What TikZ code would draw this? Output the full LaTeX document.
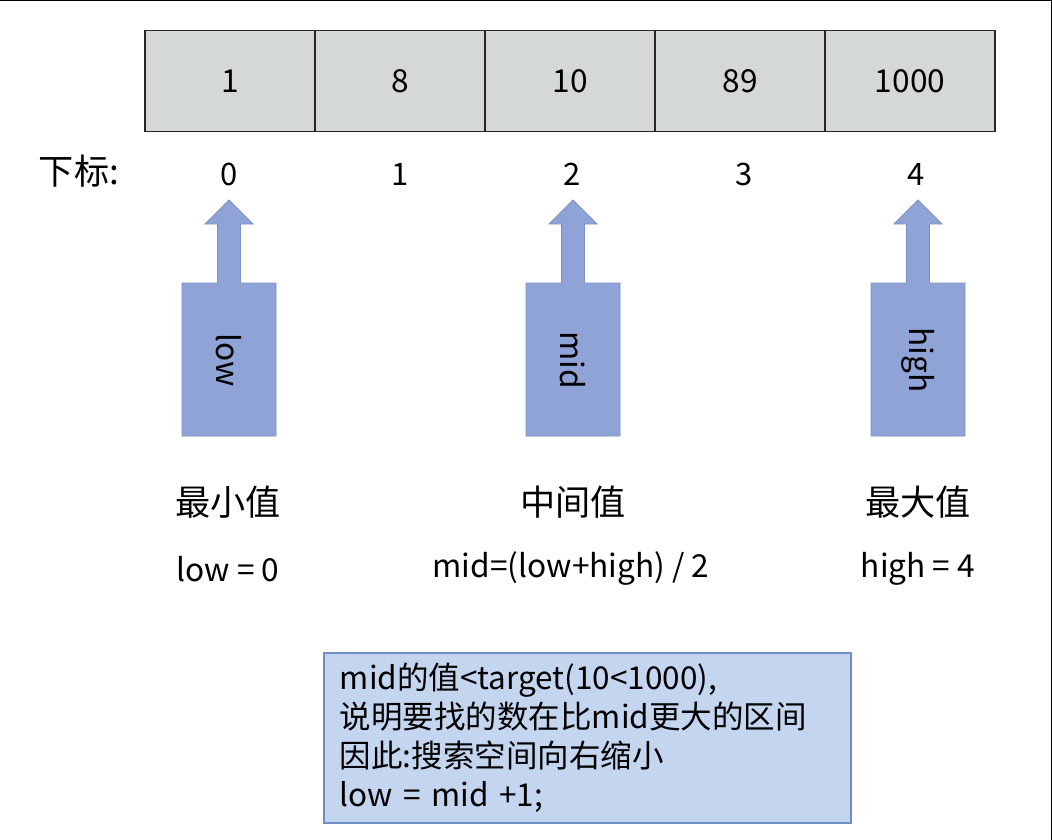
\documentclass[tikz,border=0pt]{standalone}
\usepackage{fontspec}
\setmainfont{Noto Sans CJK SC}
\definecolor{cellgray}{HTML}{D5D8D8}
\definecolor{ptrblue}{HTML}{8FA3D6}
\definecolor{ptrline}{HTML}{7A90C4}
\definecolor{notefill}{HTML}{C4D6EF}
\definecolor{noteline}{HTML}{6F8ECA}
\tikzset{
  cell/.style={draw=black!85,line width=1pt,fill=cellgray,minimum width=4.25cm,minimum height=2.525cm,inner sep=0pt,font=\fontsize{22.5}{26}\selectfont},
  idx/.style={font=\fontsize{22}{25}\selectfont},
  ptr/.style={draw=ptrline,line width=0.6pt,fill=ptrblue},
  role/.style={font=\fontsize{25}{28}\selectfont},
  expr/.style={font=\fontsize{22.5}{26}\selectfont}
}
\begin{document}
\begin{tikzpicture}[x=0.025cm,y=-0.025cm]
    \useasboundingbox (0,0) rectangle (1052,840);
    \draw[line width=1.2pt](0,0.5)--(1051.5,0.5)--(1051.5,840);

    % array and its indices
    \foreach \v [count=\i from 0] in {1,8,10,89,1000}
        \node[cell] (c\i) at ({230+170*\i},81) {\v};
    \node[idx,font=\fontsize{25}{28}\selectfont,anchor=west] (idxlab) at (34,171) {下标:};
    \foreach \x [count=\i from 0] in {229,400,572,744,916}
        \node[idx] (i\i) at (\x,174) {\i};

    % pointers
    \foreach \x/\t/\n in {229/low/lo,573/mid/mi,918/high/hi}{
        \draw[ptr]({\x-47},436)--({\x-47},283)--({\x-11.5},283)--({\x-11.5},224)--({\x-24},224)
            --(\x,200)--({\x+24},224)--({\x+11.5},224)--({\x+11.5},283)--({\x+47},283)--({\x+47},436)--cycle;
        \node[expr,rotate=-90] (p\n) at (\x,360) {\t};
    }

    \node[role] (minlab) at (228,502) {最小值};
    \node[role] (midlab) at (573,502) {中间值};
    \node[role] (maxlab) at (918,502) {最大值};
    \node[expr] (lowv) at (228,569) {low = 0};
    \node[expr] (midv) at (571,569) {mid=(low+high) / 2};
    \node[expr] (highv) at (918,569) {high = 4};

    % note
    \node[draw=noteline,line width=1.2pt,fill=notefill,anchor=north west,text width=12.375cm,inner xsep=0.4cm,
        minimum height=4.25cm,align=left,font=\fontsize{22.4}{27.7}\selectfont] (note) at (323,652)
        {mid的值<target(10<1000),\\说明要找的数在比mid更大的区间\\因此:搜索空间向右缩小\\low = mid +1;};
\end{tikzpicture}
\end{document}
